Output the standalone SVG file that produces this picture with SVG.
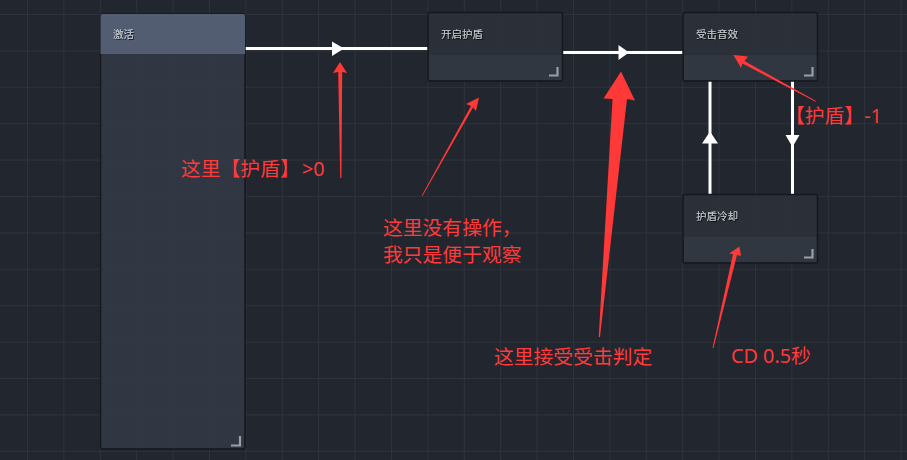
<svg xmlns="http://www.w3.org/2000/svg" width="907" height="460" viewBox="0 0 907 460">
<defs>
<pattern id="grid" x="27" y="14" width="36.4" height="36.4" patternUnits="userSpaceOnUse">
<path d="M0 0V36.4M0 0H36.4" fill="none" stroke="#393e48" stroke-width="1"/>
</pattern>
<filter id="ts" x="-10%" y="-30%" width="130%" height="160%">
<feDropShadow dx="0.8" dy="1" stdDeviation="0.4" flood-color="#000" flood-opacity="0.8"/>
</filter>
</defs>
<style>
.node{stroke:#15181d;stroke-width:1.5}
.body{fill:#2b3039;fill-opacity:0.93}
.strip{fill:#323843;fill-opacity:0.9}
.lbl{font-family:"Noto Sans CJK SC","Noto Sans",sans-serif;font-size:10.5px;fill:#c9cdd3;filter:url(#ts)}
.corner{fill:none;stroke:#9a9ea6;stroke-width:2.2}
.wire{stroke:#ffffff;stroke-width:3;fill:none}
.ah{fill:#ffffff}
.note{font-family:"Noto Sans","Noto Sans CJK SC",sans-serif;font-size:19.8px;fill:#ff3a3a}
.red{fill:#ff3838}
</style>
<rect width="907" height="460" fill="#22262e"/>
<rect width="907" height="460" fill="url(#grid)"/>

<g id="connectors">
<path class="wire" d="M245 48.5H428"/>
<polygon class="ah" points="332,41.5 344,48.5 332,56"/>
<path class="wire" d="M563 52.5H683"/>
<polygon class="ah" points="618.5,45 629,52.5 618.5,60"/>
<path class="wire" d="M710 194V81"/>
<polygon class="ah" points="702,143.5 710,131.5 718,143.5"/>
<path class="wire" d="M792.5 81V194"/>
<polygon class="ah" points="785.5,135 799.5,135 792.5,147"/>
</g>

<g id="node-jihuo">
<rect class="node" x="100.5" y="14" width="144.5" height="435" rx="2" fill="#323844" fill-opacity="0.93"/>
<path d="M102.5 14H243a2 2 0 0 1 2 2V54H100.5V16a2 2 0 0 1 2-2Z" fill="#525d71"/>
<text class="lbl" x="113" y="38">激活</text>
<path class="corner" d="M231 445.5H240V436"/>
</g>

<g id="node-kaiqi">
<rect class="node body" x="428" y="12.5" width="134.5" height="68.5" rx="2"/>
<rect class="strip" x="429" y="55" width="132.5" height="25" />
<text class="lbl" x="441" y="38">开启护盾</text>
<path class="corner" d="M549 75.5H557.5V67"/>
</g>

<g id="node-shouji">
<rect class="node body" x="683" y="12.5" width="134.5" height="68.5" rx="2"/>
<rect class="strip" x="684" y="55" width="132.5" height="25"/>
<text class="lbl" x="696" y="38">受击音效</text>
<path class="corner" d="M804 75.5H812.5V67"/>
</g>

<g id="node-lengque">
<rect class="node body" x="683" y="194.5" width="134.5" height="68.5" rx="2"/>
<rect class="strip" x="684" y="237" width="132.5" height="25"/>
<text class="lbl" x="696" y="220">护盾冷却</text>
<path class="corner" d="M804 257.5H812.5V249"/>
</g>

<g id="annotations">
<polygon class="red" points="340,62 347,73 342.2,72 341.4,178 340.2,178 338.2,72 333,73"/>
<polygon class="red" points="479,97.5 476,111 473,107.5 422.5,196 421.8,195.5 471,106 466,104"/>
<polygon class="red" points="621,71.5 635,100.5 627,99 600,337 598.7,337 612.5,99 603.5,98.5"/>
<polygon class="red" points="733.5,55 748,56.5 744.5,61 816,101 815.5,101.8 742.5,63.5 741,68"/>
<polygon class="red" points="739.5,246.5 741,256 737,255 713.5,348 712.5,348 733,254 729,253.5"/>
<text class="note" x="181" y="176">这里【护盾】<tspan x="302">&gt;0</tspan></text>
<text class="note" x="383" y="235">这里没有操作，</text>
<text class="note" x="383" y="262">我只是便于观察</text>
<text class="note" x="494" y="364">这里接受受击判定</text>
<text class="note" x="785" y="123">【护盾】-1</text>
<text class="note" x="731" y="363" font-size="21.5">CD 0.5秒</text>
</g>
</svg>
